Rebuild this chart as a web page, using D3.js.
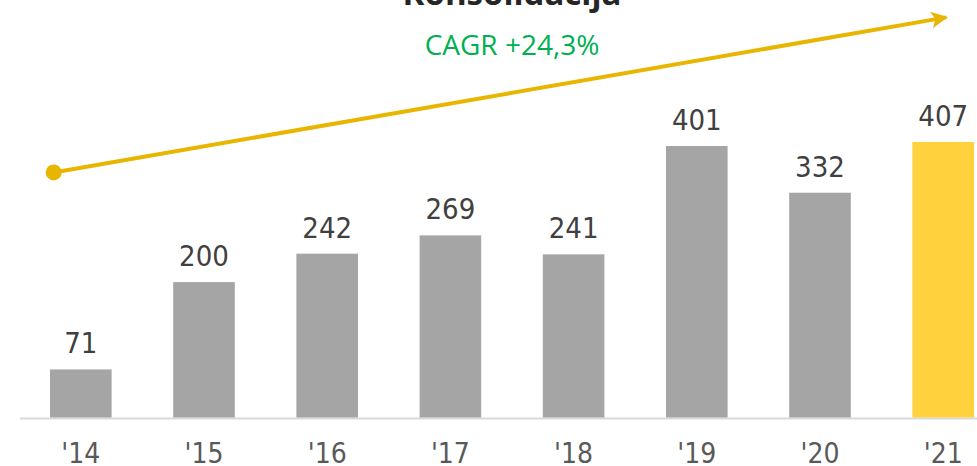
<!DOCTYPE html>
<html><head><meta charset="utf-8">
<script src="https://cdn.jsdelivr.net/npm/d3@7"></script>
<style>html,body{margin:0;padding:0;background:#fff;}svg{display:block;}</style>
</head><body>
<svg id="chart" width="977" height="466"></svg>
<script>
const categories = ["'14","'15","'16","'17","'18","'19","'20","'21"];
const values = [71,200,242,269,241,401,332,407];
const highlight = [false,false,false,false,false,false,false,true];
const titleText = "Konsolidacija";
const cagrText = "CAGR +24,3%";
// trend arrow endpoints in data units (category, value)
const trendPoints = [{cat:"'14", value:362, off:0.06}, {cat:"'21", value:591, off:0.55}];

const svg = d3.select("#chart");
const x = d3.scaleBand().domain(categories).range([50, 974]).paddingInner(0.5).paddingOuter(0);
const y = d3.scaleLinear().domain([0, 600]).range([417.5, 11.3]);

const font = "'DejaVu Sans Condensed','DejaVu Sans',sans-serif";

// title (cut off at top)
svg.append("text").attr("x", 512).attr("y", 5).attr("text-anchor","middle")
  .attr("font-family", "'Open Sans',sans-serif").attr("font-weight","bold").attr("font-size", 33)
  .attr("fill","#262626").text(titleText);

// baseline
svg.append("line").attr("x1",20).attr("x2",977).attr("y1",y(0)+1).attr("y2",y(0)+1)
  .attr("stroke","#d9d9d9").attr("stroke-width",2);

// bars
svg.selectAll("rect.bar").data(values).enter().append("rect")
  .attr("x",(d,i)=>x(categories[i])).attr("width",x.bandwidth())
  .attr("y",d=>y(d)).attr("height",d=>y(0)-y(d))
  .attr("fill",(d,i)=>highlight[i]?"#ffd13d":"#a5a5a5");

// value labels
svg.selectAll("text.val").data(values).enter().append("text")
  .attr("x",(d,i)=>x(categories[i])+x.bandwidth()/2).attr("y",d=>y(d)-16)
  .attr("text-anchor","middle").attr("font-family",font).attr("font-size",29)
  .attr("fill","#404040").text(d=>d);

// axis tick labels
const xAxis = d3.axisBottom(x).tickSize(0).tickPadding(0);
const ax = svg.append("g").attr("transform",`translate(0,${y(0)})`).call(xAxis);
ax.select(".domain").remove();
ax.selectAll("text").attr("y",45).attr("dy",0).attr("font-family",font).attr("font-size",28).attr("fill","#595959");

// trend arrow
const tp = trendPoints.map(p=>[x(p.cat)+x.bandwidth()*p.off, y(p.value)]);
const defs = svg.append("defs");
defs.append("marker").attr("id","arrow").attr("viewBox","0 0 10 10").attr("refX",9).attr("refY",5)
  .attr("markerWidth",4.2).attr("markerHeight",4.2).attr("markerUnits","strokeWidth").attr("orient","auto")
  .append("path").attr("d","M0,0 L10,5 L0,10 L2.5,5 Z").attr("fill","#e8b500");
svg.append("line").attr("x1",tp[0][0]).attr("y1",tp[0][1]).attr("x2",tp[1][0]).attr("y2",tp[1][1])
  .attr("stroke","#e8b500").attr("stroke-width",4).attr("marker-end","url(#arrow)");
svg.append("circle").attr("cx",tp[0][0]).attr("cy",tp[0][1]).attr("r",8).attr("fill","#e8b500");

// CAGR label
svg.append("text").attr("x",512).attr("y",55).attr("text-anchor","middle")
  .attr("font-family","'Open Sans',sans-serif").attr("font-size",28).attr("fill","#00b050").text(cagrText);
</script>
</body></html>
